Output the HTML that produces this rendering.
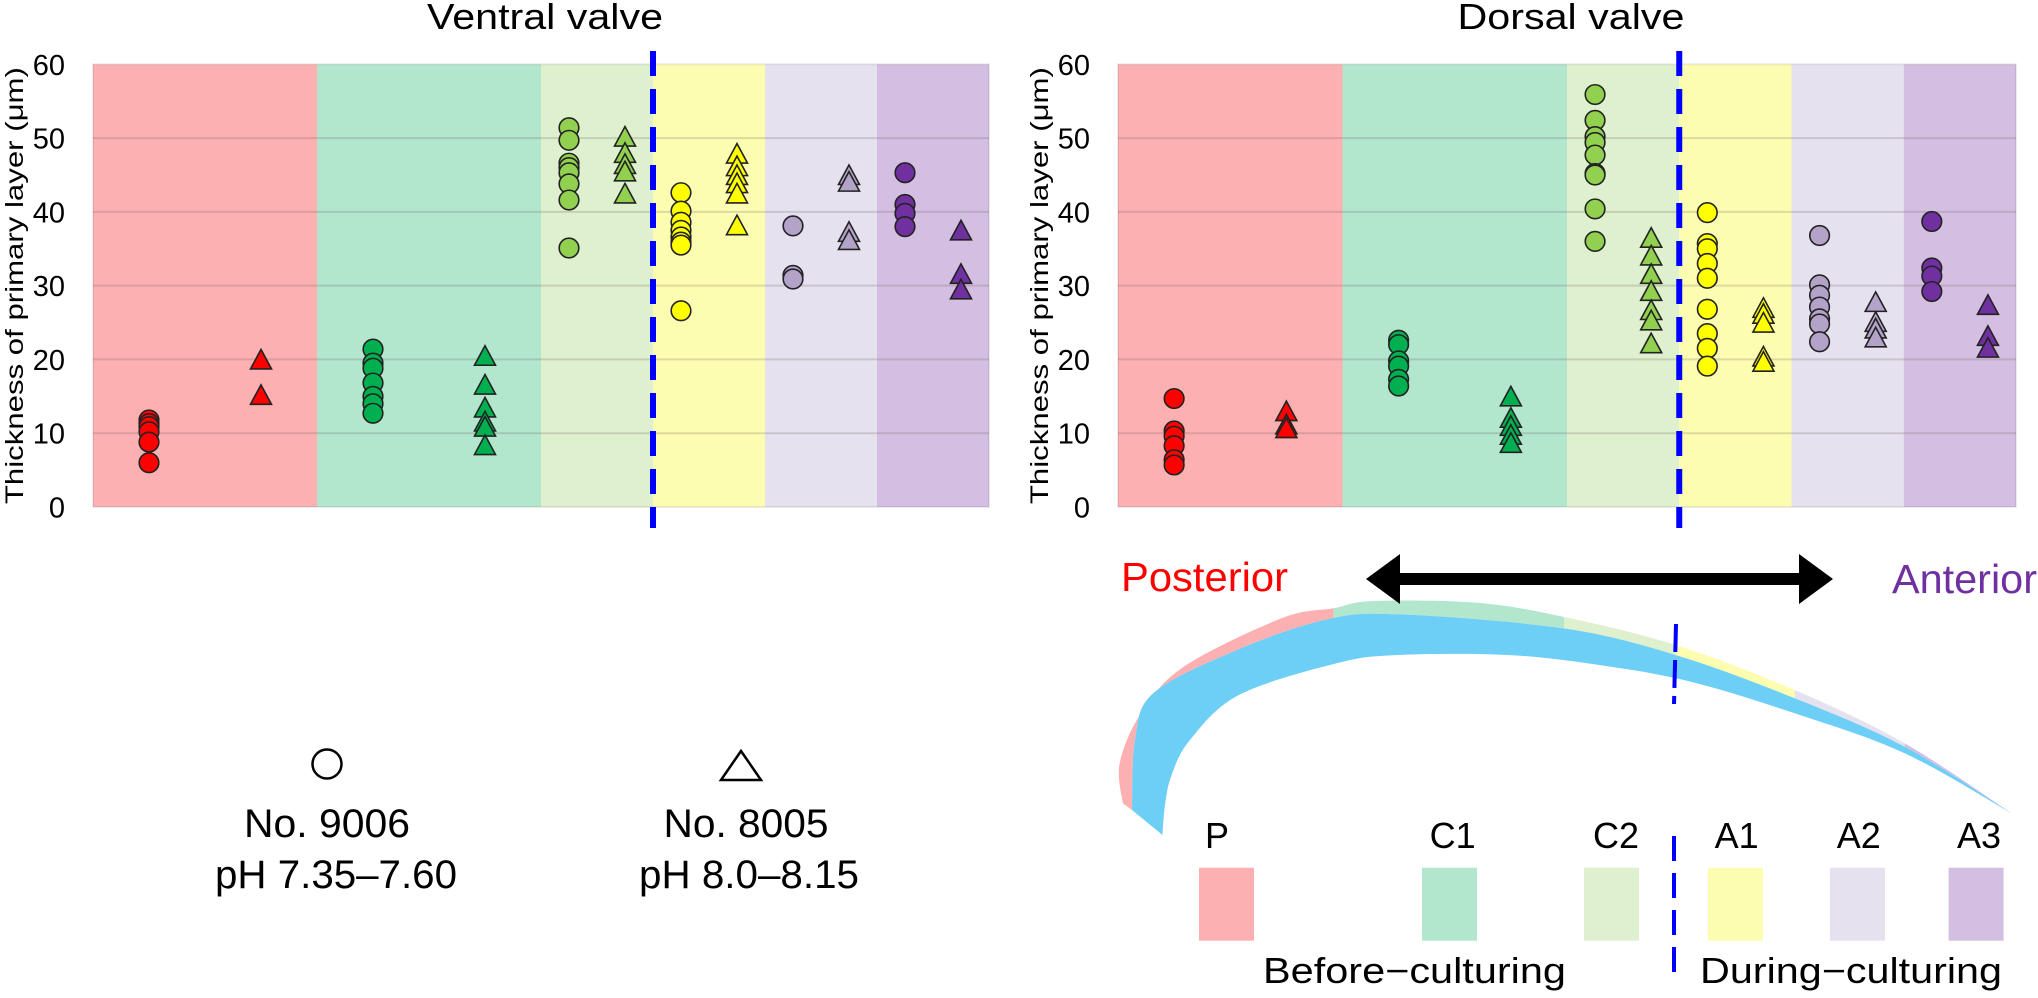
<!DOCTYPE html>
<html><head><meta charset="utf-8"><style>
html,body{margin:0;padding:0;background:#fff;width:2038px;height:998px;overflow:hidden}
svg{display:block;font-family:"Liberation Sans",Arial,sans-serif}
</style></head><body>
<svg id="fig" width="2038" height="998" viewBox="0 0 2038 998" xmlns="http://www.w3.org/2000/svg">
<g id="left"></g>
<g id="right"></g>
<g id="shell"></g>
<g id="legend">
 <circle cx="327" cy="764" r="14.5" fill="none" stroke="#000" stroke-width="2.5"/>
 <polygon points="741,751 761,780 721,780" fill="none" stroke="#000" stroke-width="2.5"/>
 <text x="327" y="837" font-size="40" text-anchor="middle" textLength="166" lengthAdjust="spacingAndGlyphs">No. 9006</text>
 <text x="336" y="888" font-size="40" text-anchor="middle" textLength="242" lengthAdjust="spacingAndGlyphs">pH 7.35–7.60</text>
 <text x="746" y="837" font-size="40" text-anchor="middle" textLength="165" lengthAdjust="spacingAndGlyphs">No. 8005</text>
 <text x="749" y="888" font-size="40" text-anchor="middle" textLength="220" lengthAdjust="spacingAndGlyphs">pH 8.0–8.15</text>
</g>
</svg>
<script>
// ===== data =====
const bandNames = ["P","C1","C2","A1","A2","A3"];
const yTicks = [0,10,20,30,40,50,60];
const ventralCircP = [11.8,11.3,10.9,10.2,8.8,6.0];
const ventralTriP = [20.0,15.2];
const ventralCircC1 = [21.4,19.5,18.8,16.8,15.0,14.0,12.7];
const ventralTriC1 = [20.5,16.6,13.5,11.6,10.9,8.4];
const ventralCircC2 = [51.4,49.7,46.6,46.0,45.3,43.8,41.6,35.1];
const ventralTriC2 = [50.2,48.0,46.5,45.5,42.5];
const ventralCircA1 = [42.6,40.1,38.6,37.5,36.6,35.9,35.5,26.6];
const ventralTriA1 = [47.9,46.2,45.0,43.9,42.5,38.2];
const ventralCircA2 = [38.1,31.4,30.9];
const ventralTriA2 = [45.0,44.1,37.3,36.2];
const ventralCircA3 = [45.3,41.0,39.8,38.0];
const ventralTriA3 = [37.5,31.6,29.5];
const dorsalCircP = [14.7,10.3,9.6,8.3,6.4,5.7];
const dorsalTriP = [13.0,11.2,10.7];
const dorsalCircC1 = [22.6,22.0,19.8,19.1,17.3,16.4];
const dorsalTriC1 = [15.0,12.1,11.0,9.8,8.7];
const dorsalCircC2 = [55.9,52.4,50.2,49.4,47.7,45.2,45.0,40.4,36.0];
const dorsalTriC2 = [36.5,34.1,31.6,29.3,26.7,25.3,22.2];
const dorsalCircA1 = [39.9,35.7,35.0,33.0,31.0,26.8,23.5,21.5,19.1];
const dorsalTriA1 = [27.0,26.2,25.0,20.4,19.7];
const dorsalCircA2 = [36.8,30.1,28.7,27.1,25.5,24.8,22.4];
const dorsalTriA2 = [27.8,25.1,24.2,23.0];
const dorsalCircA3 = [38.7,32.4,31.3,29.2];
const dorsalTriA3 = [27.4,23.2,21.6];

const bandFill = ["#fdb0b1","#b2e6cd","#def0cd","#fdfdb2","#e6e1ee","#d4bfe2"];
const markFill = ["#ff0000","#00b050","#92d050","#ffff00","#b4a3c9","#7030a0"];
const bandEdges = [0,4,8,10,12,14,16];
const circSlot = [1,5,8.5,10.5,12.5,14.5];
const triSlot = [3,7,9.5,11.5,13.5,15.5];

const NS="http://www.w3.org/2000/svg";
function mk(tag,attrs,parent){const e=document.createElementNS(NS,tag);for(const k in attrs)e.setAttribute(k,attrs[k]);parent.appendChild(e);return e;}

function drawChart(g,x0,x1,title,circs,tris,key){
  const yTop=64.3,yBot=507;
  const yS=v=>yBot-(v/60)*(yBot-yTop);
  const xS=s=>x0+(s/16)*(x1-x0);
  bandNames.forEach((b,i)=>{
    const r=mk('rect',{x:xS(bandEdges[i]),y:yTop,width:xS(bandEdges[i+1])-xS(bandEdges[i]),height:yBot-yTop,fill:bandFill[i]},g);
    
    
  });
  yTicks.forEach(t=>{
    if(t>0&&t<60){const l=mk('line',{x1:x0,x2:x1,y1:yS(t),y2:yS(t),stroke:'rgba(110,90,90,0.22)','stroke-width':2},g);
    
    }
    const tx=mk('text',{x:x0-28,y:yS(t)+10.5,'font-size':29,'text-anchor':'end'},g);
    tx.textContent=t;
    
    
  });
  const bd=mk('rect',{x:x0,y:yTop,width:x1-x0,height:yBot-yTop,fill:'none',stroke:'rgba(0,0,0,0.08)','stroke-width':2},g);
  
  
  const yt=mk('text',{x:0,y:0,'font-size':25,'text-anchor':'middle',transform:`translate(${x0-70},${(yTop+yBot)/2}) rotate(-90)`,textLength:437,lengthAdjust:'spacingAndGlyphs'},g);
  yt.textContent='Thickness of primary layer (μm)';
  
  
  const tt=mk('text',{x:(x0+x1)/2+4,y:29,'font-size':36,'text-anchor':'middle',textLength:title.length>12?236:227,lengthAdjust:'spacingAndGlyphs'},g);
  tt.textContent=title;
  
  
  bandNames.forEach((b,i)=>{
    circs[i].forEach(v=>{
      const c=mk('circle',{cx:xS(circSlot[i]),cy:yS(v),r:9.8,fill:markFill[i],stroke:'#222','stroke-width':1.6},g);
      
      
    });
    tris[i].forEach(v=>{
      const cx=xS(triSlot[i]),cy=yS(v);
      const p=mk('polygon',{points:`${cx},${cy-10} ${cx+10.5},${cy+9.5} ${cx-10.5},${cy+9.5}`,fill:markFill[i],stroke:'#222','stroke-width':1.6},g);
      
      
    });
  });
  const dl=mk('line',{x1:xS(10),x2:xS(10),y1:51,y2:528,stroke:'#0000ff','stroke-width':6,'stroke-dasharray':'25 13'},g);
  
  
}
drawChart(document.getElementById('left'),93,989,'Ventral valve',
  [ventralCircP,ventralCircC1,ventralCircC2,ventralCircA1,ventralCircA2,ventralCircA3],
  [ventralTriP,ventralTriC1,ventralTriC2,ventralTriA1,ventralTriA2,ventralTriA3],'ventral');
drawChart(document.getElementById('right'),1118,2016,'Dorsal valve',
  [dorsalCircP,dorsalCircC1,dorsalCircC2,dorsalCircA1,dorsalCircA2,dorsalCircA3],
  [dorsalTriP,dorsalTriC1,dorsalTriC2,dorsalTriA1,dorsalTriA2,dorsalTriA3],'dorsal');

// ===== shell diagram =====
const sg=document.getElementById('shell');
const outer=[[1122.8,803.3],[1119.7,763.3],[1141,713.3],[1183.8,666.7],[1281.6,618.3],[1333.5,608.3],[1373.2,601],[1477,602.7],[1562.6,616.7],[1675.6,645],[1794.7,690],[1904.7,743.3],[2011.6,813.3]];
const btop=[[1132,810],[1135,740],[1153.3,693.3],[1232.7,651.7],[1324.3,620],[1397.7,614.3],[1562.6,628.3],[1675.6,655],[1794.7,698.3],[1904.7,746.7],[2011.6,813.3]];
const bbot=[[2011.6,813.3],[1904.7,753.3],[1794.7,713.3],[1690.9,681.7],[1599.2,665],[1507.6,655],[1397.7,655],[1336.6,663.3],[1238.8,695],[1190,740],[1171.6,775],[1165,805],[1162.5,835]];
function smooth(a,start){
  let d=(start?'M':'L')+a[0][0]+','+a[0][1];
  for(let i=0;i<a.length-1;i++){
    const p0=a[Math.max(0,i-1)],p1=a[i],p2=a[i+1],p3=a[Math.min(a.length-1,i+2)];
    const c1=[p1[0]+(p2[0]-p0[0])/6,p1[1]+(p2[1]-p0[1])/6];
    const c2=[p2[0]-(p3[0]-p1[0])/6,p2[1]-(p3[1]-p1[1])/6];
    d+=` C${c1[0]},${c1[1]} ${c2[0]},${c2[1]} ${p2[0]},${p2[1]}`;
  }
  return d;
}
const outerPath=smooth(outer,true)+' '+smooth(btop.slice().reverse(),false)+' Z';
const bluePath=smooth(btop,true)+' '+smooth(bbot,false)+' Z';
const defs=mk('defs',{},sg);
const cuts=[1000,1333.5,1564,1675.6,1794.7,1904.7,2040];
bandNames.forEach((b,i)=>{
  const cp=mk('clipPath',{id:'cp'+i},defs);
  mk('rect',{x:cuts[i],y:550,width:cuts[i+1]-cuts[i],height:320},cp);
  const pg=mk('path',{d:outerPath,fill:bandFill[i],'clip-path':`url(#cp${i})`},sg);
  
  
});
const blue=mk('path',{d:bluePath,fill:'#6dcff6'},sg);


const sdl=mk('line',{x1:1676,x2:1674,y1:624,y2:704,stroke:'#0000ff','stroke-width':4,'stroke-dasharray':'28 8'},sg);


const arr=mk('polygon',{points:'1366,579 1400,554 1400,573 1799,573 1799,554 1833,579 1799,604 1799,585 1400,585 1400,604',fill:'#000'},sg);


const post=mk('text',{x:1121,y:591,'font-size':41,fill:'#ff0000',textLength:167,lengthAdjust:'spacingAndGlyphs'},sg);
post.textContent='Posterior';


const ant=mk('text',{x:1892,y:593,'font-size':41,fill:'#7030a0',textLength:145,lengthAdjust:'spacingAndGlyphs'},sg);
ant.textContent='Anterior';



// ===== region key =====
const keyX=[1199,1422,1584,1708,1830,1948.6];
const labX=[1217,1452.6,1616,1736.7,1858.8,1979];
bandNames.forEach((b,i)=>{
  const r=mk('rect',{x:keyX[i],y:867.7,width:55,height:73,fill:bandFill[i]},sg);
  
  
  const t=mk('text',{x:labX[i],y:848,'font-size':36,'text-anchor':'middle'},sg);
  t.textContent=b;
  
  
});
const kdl=mk('line',{x1:1674,x2:1674,y1:836,y2:973,stroke:'#0000ff','stroke-width':4,'stroke-dasharray':'25 12'},sg);


const bc=mk('text',{x:1263,y:983,'font-size':36,textLength:303,lengthAdjust:'spacingAndGlyphs'},sg);
bc.textContent='Before−culturing';


const dc=mk('text',{x:1700,y:983,'font-size':36,textLength:302,lengthAdjust:'spacingAndGlyphs'},sg);
dc.textContent='During−culturing';


</script>
</body></html>
